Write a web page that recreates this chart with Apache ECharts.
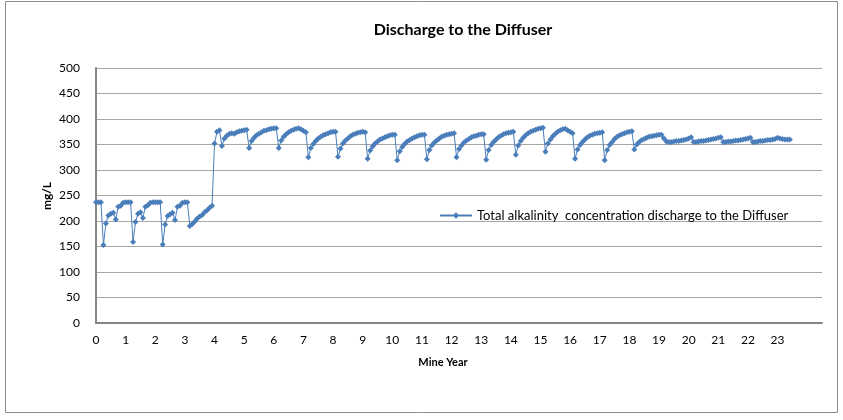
<!DOCTYPE html>
<html>
<head>
<meta charset="utf-8">
<title>Discharge to the Diffuser</title>
<script src="https://cdn.jsdelivr.net/npm/echarts@6/dist/echarts.min.js"></script>
<style>
  html, body { margin: 0; padding: 0; background: #fff; }
  #chart { width: 843px; height: 420px; }
</style>
</head>
<body>
<div id="chart"></div>
<script>
// monthly values, mg/L (point i sits at mine year i/12)
const alkalinity = [
  // year 0
  237, 237, 237, 153, 195, 211, 214, 216, 203, 228, 230, 236,
  // year 1
  237, 237, 237, 159, 198, 214, 217, 206, 228, 231, 236, 237,
  // year 2
  237, 237, 237, 154, 193, 210, 213, 216, 202, 228, 230, 236,
  // year 3
  237, 237, 190, 194, 199, 205, 209, 212, 217, 221, 226, 230,
  // year 4
  352, 375, 378, 347, 362, 367, 371, 372, 371, 374, 376, 377,
  // year 5
  378, 379, 343, 357, 363, 368, 371, 374, 377, 378, 380, 381,
  // year 6
  382, 382, 343, 358, 365, 370, 374, 377, 379, 381, 382, 380,
  // year 7
  377, 374, 325, 343, 351, 357, 362, 365, 368, 370, 372, 374,
  // year 8
  375, 375, 326, 342, 352, 358, 362, 366, 369, 371, 373, 374,
  // year 9
  375, 374, 322, 338, 346, 352, 356, 360, 362, 364, 366, 368,
  // year 10
  369, 369, 319, 337, 345, 351, 356, 359, 362, 364, 366, 368,
  // year 11
  369, 369, 321, 339, 348, 354, 358, 362, 365, 367, 369, 370,
  // year 12
  371, 372, 325, 341, 348, 354, 358, 361, 364, 366, 367, 369,
  // year 13
  370, 370, 320, 339, 349, 355, 360, 364, 367, 370, 372, 373,
  // year 14
  374, 375, 330, 348, 357, 363, 368, 372, 375, 377, 379, 381,
  // year 15
  382, 383, 336, 352, 360, 366, 371, 375, 378, 380, 381, 378,
  // year 16
  375, 372, 322, 340, 349, 355, 360, 364, 367, 369, 371, 372,
  // year 17
  373, 374, 319, 339, 349, 355, 361, 365, 368, 370, 372, 374,
  // year 18
  375, 376, 340, 350, 355, 359, 361, 363, 365, 366, 367, 368,
  // year 19
  369, 369, 362, 356, 355, 355, 356, 357, 357, 358, 359, 360,
  // year 20
  362, 364, 355, 355, 356, 357, 357, 358, 359, 360, 361, 362,
  // year 21
  363, 364, 355, 355, 356, 356, 357, 358, 358, 359, 360, 361,
  // year 22
  362, 363, 355, 355, 356, 357, 357, 358, 359, 359, 360, 361,
  // year 23
  363, 362, 361, 360, 360, 360
];
const yearTicks = ['0','1','2','3','4','5','6','7','8','9','10','11','12','13','14','15','16','17','18','19','20','21','22','23'];
const seriesName = 'Total alkalinity  concentration discharge to the Diffuser';

const font = 'Lato, "Liberation Sans", sans-serif';
const chart = echarts.init(document.getElementById('chart'));

const option = {
  animation: false,
  backgroundColor: '#fff',
  textStyle: { fontFamily: font },
  graphic: [
    { type: 'rect', shape: { x: 5.5, y: 1.5, width: 832, height: 411 },
      style: { fill: 'none', stroke: '#8c8c8c', lineWidth: 1 }, silent: true },
    { type: 'text', x: 463, y: 22, style: { text: 'Discharge to the Diffuser',
      font: 'bold 16px ' + font, fill: '#000', align: 'center' } },
    { type: 'text', x: 443, y: 357, style: { text: 'Mine Year', font: 'bold 11px ' + font,
      fill: '#000', align: 'center' } },
    { type: 'text', x: 47, y: 196, rotation: Math.PI / 2, style: { text: 'mg/L',
      font: 'bold 12px ' + font, fill: '#000', align: 'center', verticalAlign: 'middle' } }
  ],
  legend: {
    data: [seriesName],
    left: 434, top: 204,
    itemWidth: 32, itemHeight: 8, itemGap: 3,
    textStyle: { fontSize: 13, color: '#000', fontFamily: font }
  },
  grid: { left: 96, top: 68, width: 726, height: 255, containLabel: false },
  xAxis: {
    type: 'value', min: 0, max: 24.5, interval: 1,
    axisLine: { show: true, lineStyle: { color: '#868686', width: 2 } },
    axisTick: { show: false },
    splitLine: { show: false },
    axisLabel: {
      color: '#000', fontSize: 12, margin: 11,
      formatter: v => (Number.isInteger(v) && v < yearTicks.length) ? yearTicks[v] : ''
    }
  },
  yAxis: {
    type: 'value', min: 0, max: 500, interval: 50,
    axisLine: { show: true, lineStyle: { color: '#868686', width: 2 } },
    axisTick: { show: false },
    splitLine: { lineStyle: { color: '#a6a6a6', width: 1 } },
    axisLabel: { color: '#000', fontSize: 12, margin: 16 }
  },
  series: [{
    name: seriesName,
    type: 'line',
    data: alkalinity.map((v, i) => [i / 12, v]),
    symbol: 'diamond', symbolSize: 6,
    itemStyle: { color: '#4a7ebb' },
    lineStyle: { color: '#4a7ebb', width: 1 }
  }]
};

chart.setOption(option);
</script>
</body>
</html>
